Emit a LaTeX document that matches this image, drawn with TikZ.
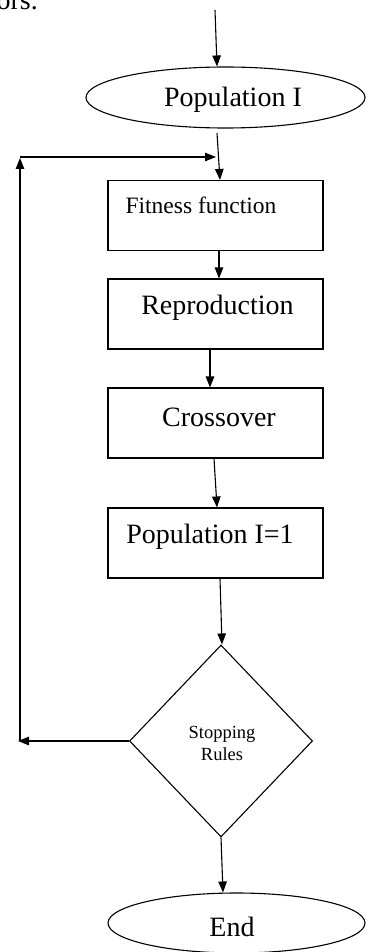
\documentclass[tikz,border=0pt]{standalone}
\usepackage{fontspec}
\setmainfont{Liberation Serif}
\usetikzlibrary{arrows.meta,shapes.geometric}
\begin{document}
\begin{tikzpicture}[x=1pt,y=-1pt,
  line width=1.1pt,
  arr/.style={-{Triangle[length=11pt,width=8.5pt]}},
  stepbox/.style={draw, line width=1.1pt, minimum width=215pt, minimum height=70pt, inner sep=0pt},
  oval/.style={draw, ellipse, line width=1.1pt, inner sep=0pt},
  big/.style={font=\fontsize{28}{32}\selectfont, inner sep=0pt},
]
\useasboundingbox (0,0) rectangle (367,952);
% fragment of previous text
\node[big, anchor=base west] (frag) at (-4,10) {ors.};
% shapes
\node[oval, minimum width=279pt, minimum height=61pt] (pop) at (225.5,97.5) {};
\node[big] (popt) at (233,100) {Population I};
\node[stepbox] (fit) at (215.5,215.5) {};
\node[font=\fontsize{23.5}{26}\selectfont, inner sep=0pt] (fitt) at (201,205) {Fitness function};
\node[stepbox] (rep) at (215.5,314) {};
\node[big] (rept) at (217.5,308) {Reproduction};
\node[stepbox] (cro) at (215.5,423) {};
\node[big] (crot) at (219,417) {Crossover};
\node[stepbox] (pone) at (215.5,543) {};
\node[big] (ponet) at (210,537) {Population I=1};
\node[draw, diamond, line width=1.1pt, inner sep=0pt, minimum width=183pt, minimum height=192pt] (stop) at (221,741) {};
\node[align=center, font=\fontsize{18.5}{22}\selectfont, inner sep=0pt] (stopt) at (222,743) {Stopping\\Rules};
\node[oval, minimum width=257pt, minimum height=60pt] (endn) at (236.5,923) {};
\node[big] (endt) at (232,927) {End};
% helper coordinates
\coordinate (start) at (215,10);
\coordinate (lb) at (18,741);
\coordinate (lt) at (20,158);
\coordinate (lc) at (20,157);
\coordinate (fb) at (216,157);
% connectors
\draw[arr] (start) -- (pop.north -| 217,0);
\draw[arr] (217,133) -- (fit.north -| 220,0);
\draw[arr] (fit.south -| 219,0) -- (rep.north -| 219,0);
\draw[arr] (rep.south -| 210,0) -- (cro.north -| 210,0);
\draw[arr] (cro.south -| 214,0) -- (pone.north -| 217,0);
\draw[arr] (pone.south -| 220,0) -- (stop.north -| 222,0);
\draw[arr] (stop.west) -- (lb);
\draw[arr] (20,741) -- (lt);
\draw[arr] (lc) -- (fb);
\draw[arr] (stop.south) -- (endn.north -| 223,0);
\end{tikzpicture}
\end{document}
